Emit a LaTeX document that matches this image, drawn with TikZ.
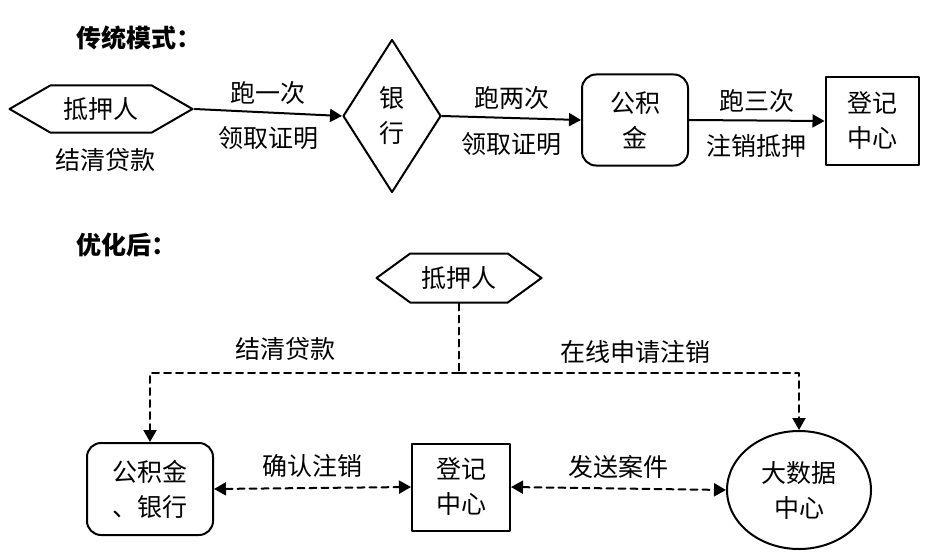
\documentclass[tikz,border=0pt]{standalone}
\usepackage{fontspec}
\setmainfont{Noto Sans CJK SC}
\usetikzlibrary{arrows.meta,shapes.geometric,shapes.symbols}
\tikzset{
  ttl/.style={font=\bfseries\fontsize{25}{28}\selectfont},
  hexa/.style={draw,signal,signal to=west and east,inner sep=0pt},
  rhomb/.style={draw,diamond,align=center,inner sep=0pt,minimum width=98pt,minimum height=153pt},
  rbox/.style={draw,rounded corners=14pt,align=center,inner sep=0pt},
  sbox/.style={draw,align=center,inner sep=0pt},
  oval/.style={draw,ellipse,align=center,inner sep=0pt},
  dsh/.style={dash pattern=on 7pt off 5pt}
}

\begin{document}
\begin{tikzpicture}[line cap=round,line join=round,>={Triangle[length=12pt,width=13pt]},x=1pt,y=-1pt,line width=2pt,font=\fontsize{25}{35}\selectfont]
\useasboundingbox (0,0) rectangle (936,559);
% traditional
\node[ttl,anchor=west] (ttl1) at (72,38) {传统模式：};
\node[hexa,minimum width=183pt,minimum height=47pt,signal pointer angle=60] (dyr1) at (101,109) {抵押人};
\node (jq1) at (105,160) {结清贷款};
\node[rhomb] (yh1) at (392,116) {银\\行};
\node[rbox,minimum width=106pt,minimum height=91pt] (gjj1) at (635,120) {公积\\金};
\node[sbox,minimum width=93pt,minimum height=88pt] (dj1) at (872,121) {登记\\中心};
\draw[->] (dyr1.east) -- node[above=4pt]{跑一次} node[below=10pt]{领取证明} (yh1.west);
\draw[->] (yh1.east) -- node[above=4pt]{跑两次} node[below=10pt]{领取证明} (gjj1.west);
\draw[->] (gjj1.east) -- node[above=4pt]{跑三次} node[below=10pt]{注销抵押} (dj1.west);

% optimized
\node[ttl,anchor=west] (ttl2) at (72,245) {优化后：};
\node[hexa,minimum width=165pt,minimum height=49pt,signal pointer angle=72] (dyr2) at (459,278) {抵押人};
\node[rbox,minimum width=126pt,minimum height=92pt] (gb2) at (150,489) {公积金\\、银行};
\node[sbox,minimum width=98pt,minimum height=87pt] (dj2) at (461,487) {登记\\中心};
\node[oval,minimum width=144pt,minimum height=118pt] (dsj2) at (799,490) {大数据\\中心};
\coordinate (j) at (459,373);
\draw[dsh] (dyr2.south) -- (j);
\draw[dsh,->] (j) -| node[pos=0.28,above=8pt]{结清贷款} (gb2.north);
\draw[dsh,->] (j) -| node[pos=0.26,above=5pt]{在线申请注销} (dsj2.north);
\draw[dsh,<->] (gb2.east) -- node[above=6pt]{确认注销} (dj2.west);
\draw[dsh,<->] (dj2.east) -- node[above=6pt]{发送案件} (dsj2.west);
\end{tikzpicture}
\end{document}
